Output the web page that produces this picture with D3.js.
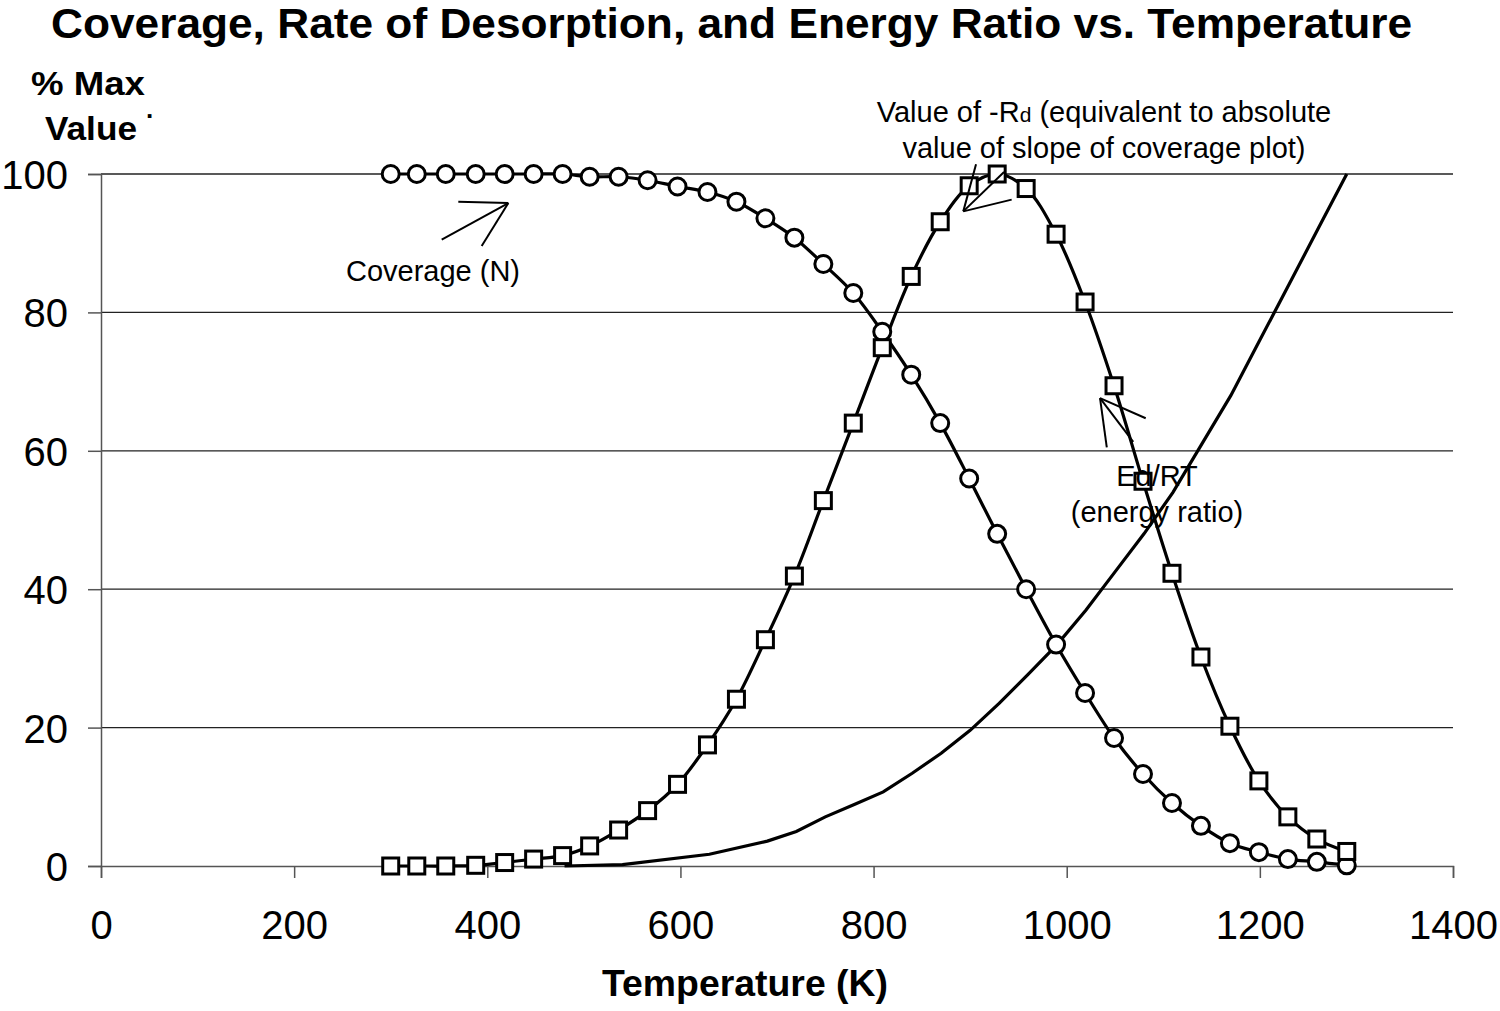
<!DOCTYPE html>
<html>
<head>
<meta charset="utf-8">
<script src="https://cdn.jsdelivr.net/npm/d3@7"></script>
<style>
body { margin: 0; background: #fff; }
text { font-family: "Liberation Sans", Arial, sans-serif; fill: #000; }
</style>
</head>
<body>
<div id="chart"></div>
<script>
var temps = [300, 327, 357, 388, 418, 448, 478, 506, 536, 566, 597, 628, 658, 688, 718, 748, 779, 809, 839,
    869, 899, 928, 958, 989, 1019, 1049, 1079, 1109, 1139, 1169, 1199, 1229, 1259, 1290];
var coverage = [100, 100, 100, 100, 100, 100, 100, 99.6, 99.6, 99.1, 98.2, 97.4, 96.0, 93.6, 90.8, 87.0, 82.8, 77.2,
    71.0, 64.0, 56.0, 48.0, 40.0, 32.0, 25.0, 18.5, 13.3, 9.1, 5.8, 3.3, 2.0, 1.0, 0.6, 0.1];
var rateDes = [0, 0, 0, 0.1, 0.5, 1.0, 1.5, 2.9, 5.2, 8.0, 11.8, 17.5, 24.1, 32.7, 41.9, 52.8, 64.0, 74.9,
    85.2, 93.1, 98.3, 100, 97.9, 91.3, 81.5, 69.4, 55.6, 42.3, 30.2, 20.2, 12.3, 7.1, 3.9, 2.1];
var edTemps = [480, 540, 630, 690, 720, 750, 780, 810, 840, 870, 900, 930, 960, 990, 1020, 1050, 1080,
    1110, 1140, 1170, 1200, 1230, 1260, 1290];
var energyRatio = [0, 0.2, 1.7, 3.6, 5.0, 7.1, 8.9, 10.7, 13.4, 16.3, 19.6, 23.5, 27.7, 32.0, 37.0, 42.5, 48.0,
    54.0, 61.0, 68.0, 76.0, 84.0, 92.0, 100];
var xTicks = [0, 200, 400, 600, 800, 1000, 1200, 1400];
var yTicks = [0, 20, 40, 60, 80, 100];

var W = 1500, H = 1011;
var svg = d3.select("#chart").append("svg").attr("width", W).attr("height", H);

var x = d3.scaleLinear().domain([0, 1400]).range([101, 1453]);
var y = d3.scaleLinear().domain([0, 100]).range([866, 174]);

// gridlines
svg.append("g").selectAll("line").data(yTicks.filter(d => d > 0)).join("line")
    .attr("x1", x(0)).attr("x2", x(1400))
    .attr("y1", d => y(d)).attr("y2", d => y(d))
    .attr("stroke", "#222").attr("stroke-width", 1.3);

var yAxis = svg.append("g").attr("transform", "translate(" + x(0) + ",0)")
    .call(d3.axisLeft(y).tickValues(yTicks).tickSize(13).tickPadding(20).tickFormat(d3.format("d")));
var xAxis = svg.append("g").attr("transform", "translate(0," + y(0) + ")")
    .call(d3.axisBottom(x).tickValues(xTicks).tickSize(12).tickPadding(33).tickFormat(d3.format("d")));
[xAxis, yAxis].forEach(function(a) {
    a.select(".domain").attr("stroke", "#555").attr("stroke-width", 1.5);
    a.selectAll(".tick line").attr("stroke", "#555").attr("stroke-width", 1.5);
    a.selectAll(".tick text").attr("font-size", 40).attr("font-family", "Liberation Sans, Arial, sans-serif").attr("fill", "#000");
});
yAxis.selectAll(".tick text").attr("dy", "0.36em");

var smooth = d3.line().x(d => x(d[0])).y(d => y(d[1])).curve(d3.curveCatmullRom.alpha(0.5));
var straight = d3.line().x(d => x(d[0])).y(d => y(d[1]));

var covPts = temps.map((t, i) => [t, coverage[i]]);
var rdPts = temps.map((t, i) => [t, rateDes[i]]);
var edPts = edTemps.map((t, i) => [t, energyRatio[i]]);

svg.append("path").attr("d", straight(edPts)).attr("fill", "none").attr("stroke", "#000").attr("stroke-width", 3.2);
svg.append("path").attr("d", smooth(covPts)).attr("fill", "none").attr("stroke", "#000").attr("stroke-width", 3.2);
svg.append("path").attr("d", smooth(rdPts)).attr("fill", "none").attr("stroke", "#000").attr("stroke-width", 3.2);

svg.append("g").selectAll("circle").data(covPts).join("circle")
    .attr("cx", d => x(d[0])).attr("cy", d => y(d[1])).attr("r", 8.5)
    .attr("fill", "#fff").attr("stroke", "#000").attr("stroke-width", 3);
svg.append("g").selectAll("rect").data(rdPts).join("rect")
    .attr("x", d => x(d[0]) - 8).attr("y", d => y(d[1]) - 8).attr("width", 16).attr("height", 16)
    .attr("fill", "#fff").attr("stroke", "#000").attr("stroke-width", 3);

// annotation arrows, given in data units: tip then the three strokes leaving it
var arrows = [
    {tip: [421.8, 95.8], ends: [[352.8, 90.5], [370.0, 96.0], [394.2, 89.6]]},
    {tip: [892.9, 94.6], ends: [[906.1, 101.4], [943.0, 96.3], [935.1, 100.3]]},
    {tip: [1034.5, 67.6], ends: [[1068.9, 61.3], [1041.5, 60.5], [1081.8, 64.7]]}
];
arrows.forEach(function(a) {
    svg.append("g").selectAll("line").data(a.ends).join("line")
        .attr("x1", x(a.tip[0])).attr("y1", y(a.tip[1]))
        .attr("x2", d => x(d[0])).attr("y2", d => y(d[1]))
        .attr("stroke", "#000").attr("stroke-width", 2);
});

// titles and labels (reference type is a little wider than Liberation, hence textLength)
function boldText(tx, ty, size, len, str) {
    return svg.append("text").attr("x", tx).attr("y", ty).attr("font-size", size).attr("font-weight", "bold")
        .attr("textLength", len).attr("lengthAdjust", "spacingAndGlyphs").text(str);
}
boldText(51, 38, 42, 1361, "Coverage, Rate of Desorption, and Energy Ratio vs. Temperature");
boldText(31, 95, 33, 114, "% Max");
boldText(45, 140, 33, 92, "Value");
svg.append("text").attr("x", 146).attr("y", 118).attr("font-size", 26).attr("font-weight", "bold").text(".");
boldText(602, 996, 36, 286, "Temperature (K)");

svg.append("text").attr("x", 433).attr("y", 281).attr("text-anchor", "middle")
    .attr("font-size", 29).text("Coverage (N)");

var rd1 = svg.append("text").attr("x", 1104).attr("y", 122).attr("text-anchor", "middle").attr("font-size", 29);
rd1.append("tspan").text("Value of -R");
rd1.append("tspan").attr("font-size", 21).text("d");
rd1.append("tspan").text(" (equivalent to absolute");
svg.append("text").attr("x", 1104).attr("y", 158).attr("text-anchor", "middle")
    .attr("font-size", 29).text("value of slope of coverage plot)");

svg.append("text").attr("x", 1157).attr("y", 486).attr("text-anchor", "middle")
    .attr("font-size", 29).text("Ed/RT");
svg.append("text").attr("x", 1157).attr("y", 522).attr("text-anchor", "middle")
    .attr("font-size", 29).text("(energy ratio)");
</script>
</body>
</html>
